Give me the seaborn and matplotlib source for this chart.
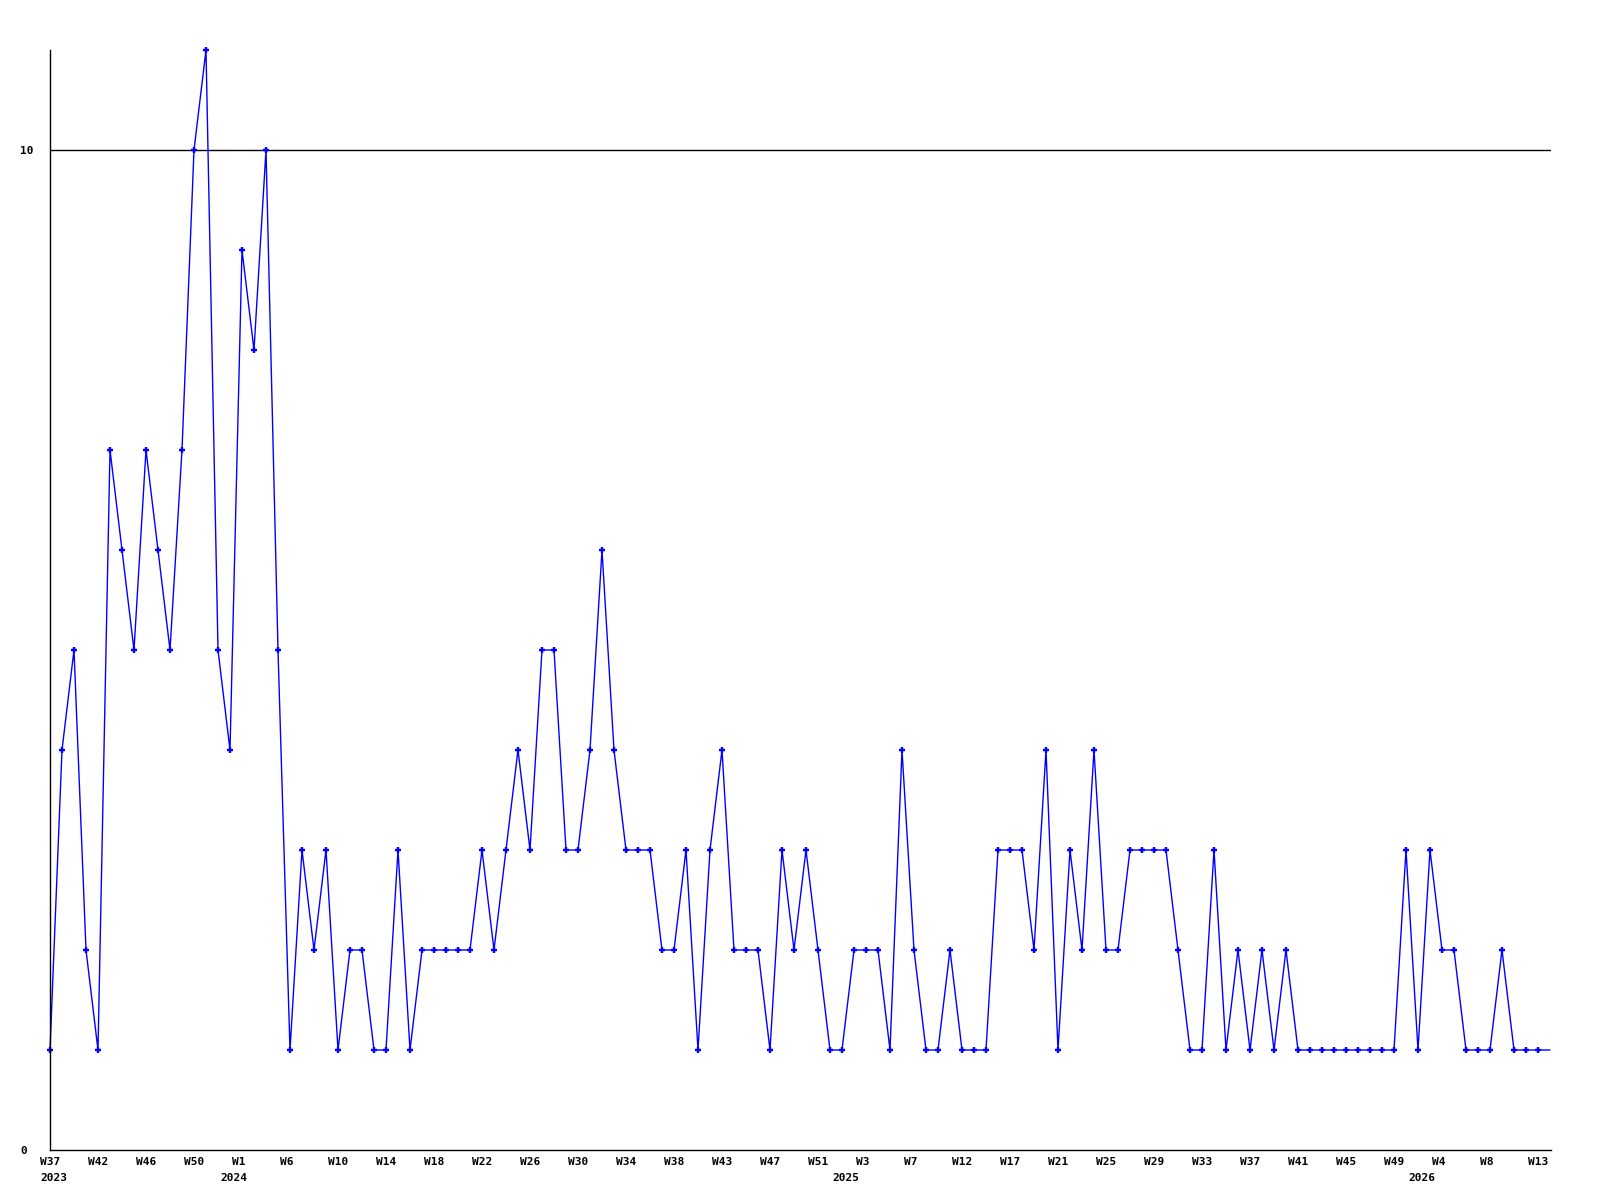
"""
Weekly count chart, 2023 W37 .. 2026 W13.
Plain line with plus markers, only 0 and 10 labelled on y.
"""

import numpy as np
import pandas as pd
import matplotlib
matplotlib.use("Agg")
import matplotlib.pyplot as plt
import seaborn as sns

# weekly values, one per point
counts = [1, 4, 5, 2, 1, 7, 6, 5, 7, 6, 5, 7, 10, 11, 5, 4, 9, 8, 10, 5,
          1, 3, 2, 3, 1, 2, 2, 1, 1, 3,
          1, 2, 2, 2, 2, 2, 3, 2, 3, 4,
          3, 5, 5, 3, 3, 4, 6, 4, 3, 3,
          3, 2, 2, 3, 1, 3, 4, 2, 2, 2,
          1, 3, 2, 3, 2, 1, 1, 2, 2, 2,
          1, 4, 2, 1, 1, 2, 1, 1, 1, 3,
          3, 3, 2, 4, 1, 3, 2, 4, 2, 2,
          3, 3, 3, 3, 2, 1, 1, 3, 1, 2,
          1, 2, 1, 2, 1, 1, 1, 1, 1, 1,
          1, 1, 1, 3, 1, 3, 2, 2, 1, 1,
          1, 2, 1, 1, 1, 1]

# one label every 4th point
week_labels = ["W37", "W42", "W46", "W50", "W1", "W6", "W10", "W14", "W18",
               "W22", "W26", "W30", "W34", "W38", "W43", "W47", "W51", "W3",
               "W7", "W12", "W17", "W21", "W25", "W29", "W33", "W37", "W41",
               "W45", "W49", "W4", "W8", "W13"]
year_labels = ["2023", "2024", "2025", "2026"]
year_ticks = [0, 4, 17, 29]          # which week label the year sits under
y_ticks = [0, 10]

LABEL_STEP = 4
PX = 0.72  # points per pixel at dpi 100

df = pd.DataFrame({"idx": np.arange(len(counts)), "count": counts})

sns.set_style("white")
plt.rcParams["font.family"] = ["DejaVu Sans Mono", "DejaVu Sans"]
plt.rcParams["font.weight"] = "bold"
plt.rcParams["font.size"] = 8
plt.rcParams["text.color"] = "black"
plt.rcParams["xtick.color"] = "black"
plt.rcParams["ytick.color"] = "black"

fig = plt.figure(figsize=(16, 12), dpi=100)
ax = fig.add_axes([50 / 1600, 50 / 1200, 1501 / 1600, 1100 / 1200])

sns.lineplot(data=df, x="idx", y="count", ax=ax, color="#0000ff",
             linewidth=1.0, marker="+", markersize=4.5, markeredgewidth=1.7,
             markeredgecolor="#0000ff", markevery=list(range(len(counts) - 1)),
             clip_on=False)
ax.axhline(10, color="black", lw=1.0, zorder=1)

ax.set_xlim(0, (1551 - 50) / 12)
ax.set_ylim(0, 11)

ticks = np.arange(len(week_labels)) * LABEL_STEP
ax.set_xticks(ticks)
ax.set_xticklabels(week_labels)
ax.set_yticks(y_ticks)
ax.set_yticklabels([str(v) for v in y_ticks])
ax.tick_params(axis="both", length=0, labelsize=8, colors="black")
ax.tick_params(axis="x", pad=7 * PX)
ax.tick_params(axis="y", pad=30 * PX)
for t in ax.get_xticklabels():
    t.set_ha("left")
    t.set_transform(t.get_transform() +
                    matplotlib.transforms.ScaledTranslation(-10 / 100, 0, fig.dpi_scale_trans))
for t in ax.get_yticklabels():
    t.set_ha("left")

year_shift = [-10, -22, -34, -34]
for lab, k, dx in zip(year_labels, year_ticks, year_shift):
    ax.annotate(lab, xy=(ticks[k], 0), xycoords=("data", "axes fraction"),
                xytext=(dx * PX, -23 * PX), textcoords="offset points",
                ha="left", va="top", fontsize=8, fontweight="bold", color="black")

ax.set_xlabel("")
ax.set_ylabel("")
for side in ["top", "right"]:
    ax.spines[side].set_visible(False)
for side in ["left", "bottom"]:
    ax.spines[side].set_color("black")
    ax.spines[side].set_linewidth(1.0)

fig.savefig("out.png", dpi=100, facecolor="white")
